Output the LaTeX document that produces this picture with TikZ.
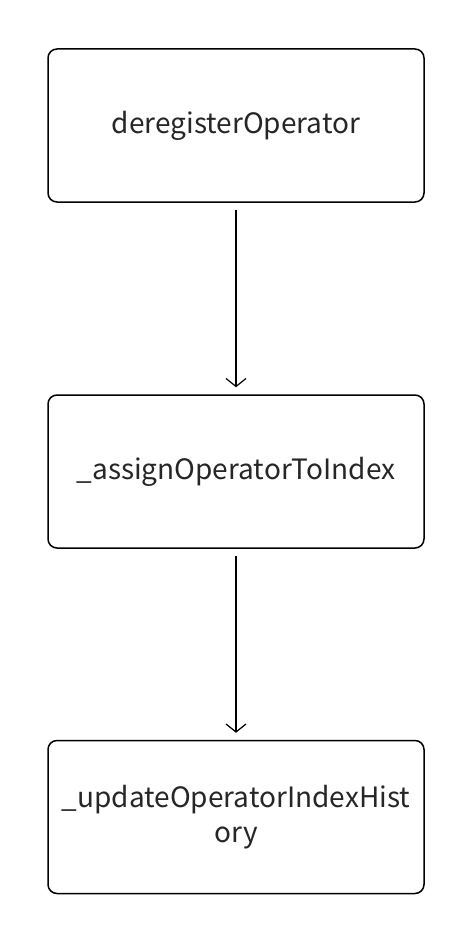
\documentclass[tikz,border=0pt]{standalone}
\usepackage{fontspec}
\setmainfont{Noto Sans CJK SC}
\usetikzlibrary{arrows.meta}
\begin{document}
\begin{tikzpicture}[x=1pt,y=-1pt,
  box/.style={draw=black,line width=1.5pt,rounded corners=9pt,minimum width=376pt,minimum height=153pt,align=center,font=\fontsize{28}{35}\selectfont,text=black!85,inner sep=0pt,text depth=6pt},
  conn/.style={draw=black,line width=1.2pt,-{Straight Barb[length=8pt,width=20pt,line width=1.2pt]},shorten <=7pt,shorten >=7pt}]
\useasboundingbox (0,0) rectangle (474,944);
\node[box] (a) at (236,125.5) {deregisterOperator};
\node[box] (b) at (236,471.5) {\_assignOperatorToIndex};
\node[box] (c) at (236,817) {\_updateOperatorIndexHist\\ory};
\draw[conn] (a) -- (b);
\draw[conn] (b) -- (c);
\end{tikzpicture}
\end{document}
